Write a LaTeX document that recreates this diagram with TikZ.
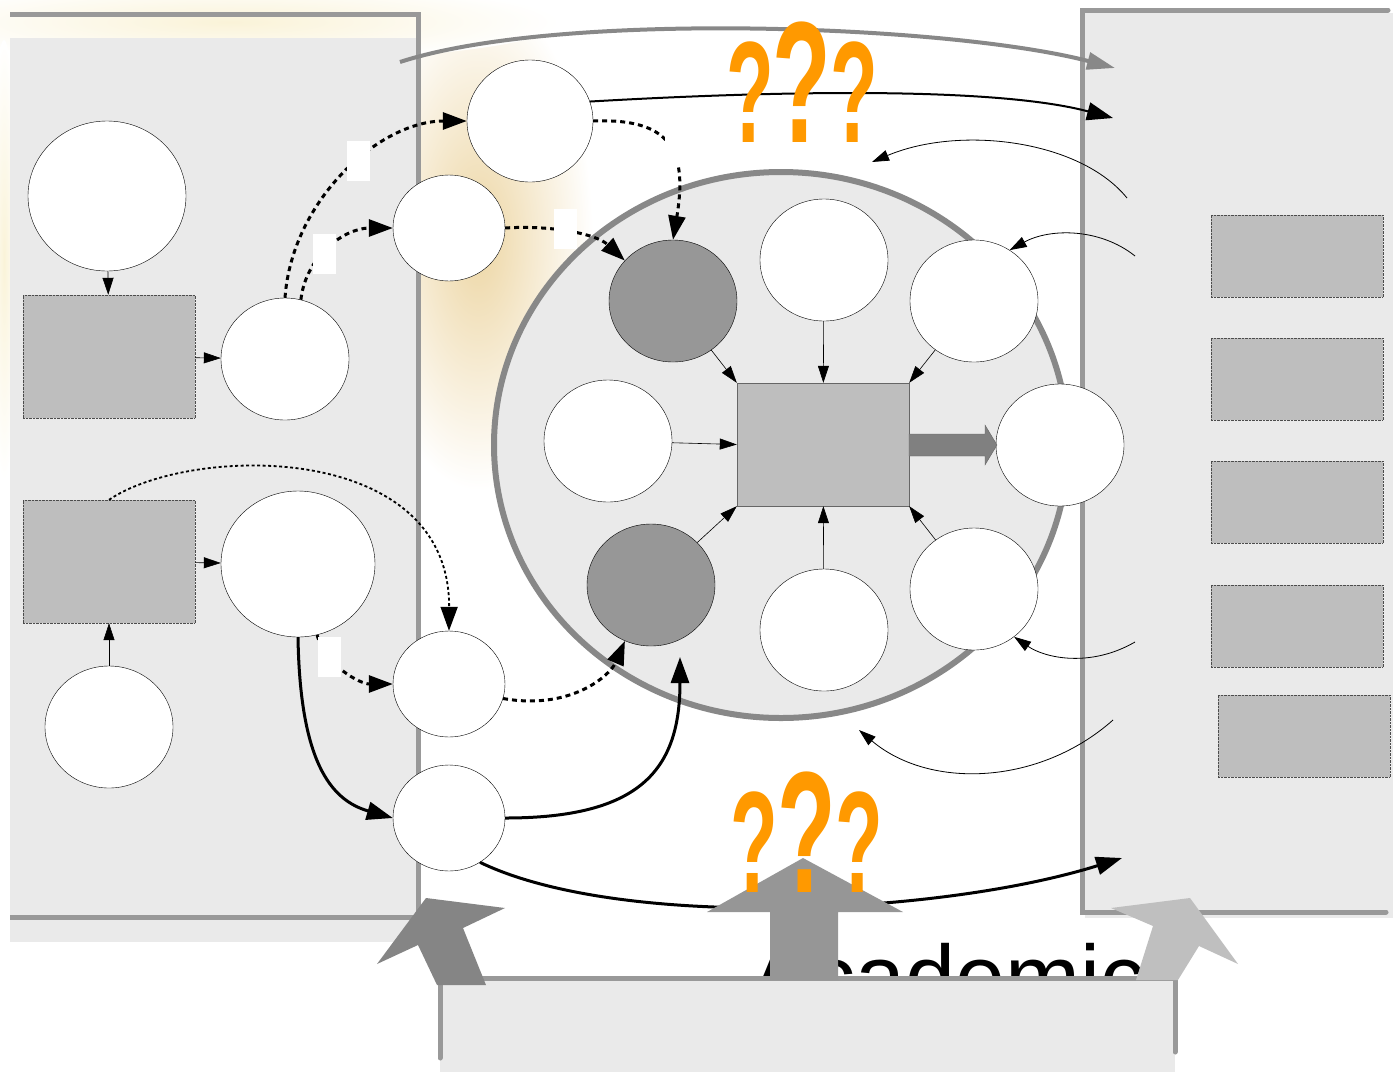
\documentclass[tikz,border=0pt]{standalone}
\usepackage{fontspec}
\setmainfont{Liberation Sans}
\usetikzlibrary{arrows.meta,shapes.geometric}

\definecolor{panel}{HTML}{EAEAEA}
\definecolor{frame}{HTML}{999999}
\definecolor{boxfill}{HTML}{BEBEBE}
\definecolor{darkfill}{HTML}{979797}
\definecolor{ringline}{HTML}{888888}
\definecolor{qmark}{HTML}{FF9900}
\definecolor{wheat}{HTML}{EDD6A4}
\definecolor{wheatlight}{HTML}{FAF3D8}

\tikzset{
  blob/.style={ellipse, draw, thin, fill=white, inner sep=0pt,
    minimum width=128pt, minimum height=122pt},
  darkblob/.style={blob, fill=darkfill},
  greybox/.style={rectangle, draw=black!70, densely dotted, fill=boxfill,
    inner sep=0pt, minimum width=172pt, minimum height=123pt},
  lbl/.style={rectangle, fill=white, inner sep=0pt,
    minimum width=23pt, minimum height=40pt},
  thinarrow/.style={-{Triangle[length=17pt,width=11pt]}, line width=0.6pt},
  dotarrow/.style={-{Triangle[length=24pt,width=17pt]}, line width=3pt,
    dash pattern=on 5pt off 4pt},
  finedots/.style={-{Triangle[length=24pt,width=17pt]}, line width=1.8pt,
    dash pattern=on 3pt off 2.5pt},
  fatarrow/.style={-{Triangle[length=26pt,width=18pt]}, line width=3pt},
  qm/.style={text=qmark, anchor=base, inner sep=0pt},
}

\begin{document}
\begin{tikzpicture}[x=1pt, y=-1pt]
  \useasboundingbox (0,0) rectangle (1393,1072);

  % background
  \shade[inner color=wheat, outer color=white] (478,240) ellipse [x radius=115, y radius=250];
  \shade[inner color=wheatlight, outer color=white] (230,22) ellipse [x radius=330, y radius=40];
  \shade[inner color=wheatlight, outer color=white] (4,260) ellipse [x radius=14, y radius=220];

  % panels
  \fill[panel] (10,38) rectangle (418,942);
  \draw[frame, line width=5pt] (10,14) -- (418,14) -- (418,917) -- (10,917);
  \fill[panel] (1085,13) rectangle (1393,918);
  \draw[frame, line width=5pt, line cap=round] (1388,10) -- (1082,10) -- (1082,912) -- (1386,912);

  % ring
  \node[ellipse, draw=ringline, line width=6pt, fill=panel, minimum width=574pt,
    minimum height=546pt] (K) at (781,445) {};

  \begin{scope}[every node/.style={blob}]
    \node (A) [minimum width=158pt, minimum height=150pt] at (107,196) {};
    \node (C) at (285,359) {};
    \node (E) [minimum width=154pt, minimum height=146pt] at (298,564) {};
    \node (F) at (109,727) {};
    \node (G) [minimum width=126pt] at (530,121) {};
    \node (H) [minimum width=112pt, minimum height=106pt] at (449,228) {};
    \node (I) [minimum width=112pt, minimum height=106pt] at (449,684) {};
    \node (J) [minimum width=112pt, minimum height=106pt] at (449,818) {};
    \node (L) [darkblob] at (673,301) {};
    \node (M) at (824,260) {};
    \node (N) at (974,301) {};
    \node (O) at (608,441) {};
    \node (Q) at (1060,445) {};
    \node (R) [darkblob] at (651,585) {};
    \node (S) at (824,630) {};
    \node (T) at (974,589) {};
  \end{scope}

  \begin{scope}[every node/.style={greybox}]
    \node (B) at (109,356.5) {};
    \node (D) at (109,561.5) {};
    \node (P) [solid, draw=black!60] at (823,444.5) {};
    \node (U) [minimum height=82pt] at (1297,256) {};
    \node (V) [minimum height=82pt] at (1297,379) {};
    \node (W) [minimum height=82pt] at (1297,502) {};
    \node (X) [minimum height=82pt] at (1297,626) {};
    \node (Y) [minimum height=82pt] at (1304,736) {};
  \end{scope}

  \coordinate (g1) at (400,62);
  \coordinate (g2) at (1115,68);
  \coordinate (k1) at (1113,118);
  \coordinate (k2) at (1122,858);
  \coordinate (r1) at (680,657);
  \coordinate (t1) at (1127,198);
  \coordinate (t2) at (872,162);
  \coordinate (t3) at (1135,256);
  \coordinate (t4) at (1135,642);
  \coordinate (t5) at (1113,720);
  \coordinate (t6) at (859,730);

  % straight arrows
  \begin{scope}[every edge/.style={draw, thinarrow}]
    \path (A) edge (B);
    \path (B) edge (C);
    \path (D) edge (E);
    \path (F) edge (D);
    \path (L) edge (P.north west);
    \path (M) edge (P);
    \path (N) edge (P.north east);
    \path (O) edge (P.west);
    \path (R) edge (P.south west);
    \path (S) edge (P);
    \path (T) edge (P.south east);
  \end{scope}

  \fill[black!50, draw=black!60, thin] (909,434) -- (985,434) -- (985,425) -- (997,445)
    -- (985,465) -- (985,456) -- (909,456) -- cycle;

  % dotted links
  \draw[dotarrow] (C.north) .. controls +(7,-98) and +(-87,0) .. (G.west);
  \draw[dotarrow] (C.75) .. controls +(5,-44) and +(-48,0) .. (H.west);
  \draw[dotarrow] (H.east) .. controls +(45,-3) and +(-29,-27) .. (L.140);
  \draw[dotarrow] (G.east) .. controls +(77,-3) and +(15,-90) .. (L.north);
  \draw[dotarrow] (E.-75) .. controls +(8,30) and +(-33,0) .. (I.west);
  \draw[dotarrow] (I.-15) .. controls +(67,12) and +(-15,35) .. (R.-115);
  \draw[finedots] (D.north) .. controls +(81,-55) and +(1,-191) .. (I.north);

  % solid links
  \draw[fatarrow] (E.south) .. controls +(2,123) and +(-63,-18) .. (J.west);
  \draw[fatarrow] (J.east) .. controls +(135,0) and +(0,113) .. (r1);
  \draw[fatarrow] (J.-55) .. controls (620,930) and (940,915) .. (k2);
  \draw[fatarrow, line width=2pt] (G.18) .. controls +(207,-12) and +(-113,-30) .. (k1);
  \draw[ringline, line width=4pt, -{Triangle[length=28pt,width=17pt]}]
    (g1) .. controls (560,10) and (950,25) .. (g2);

  % thin links from the right
  \draw[thinarrow, line width=0.8pt] (t1) .. controls (1080,140) and (960,125) .. (t2);
  \draw[thinarrow, line width=0.8pt] (t3) .. controls (1100,228) and (1050,228) .. (N.55);
  \draw[thinarrow, line width=0.8pt] (t4) .. controls (1090,668) and (1045,658) .. (T.-50);
  \draw[thinarrow, line width=0.8pt] (t5) .. controls (1040,785) and (930,790) .. (t6);

  % labels on the dotted links
  \begin{scope}[every node/.style={lbl}]
    \node (l1) at (358,161) {};
    \node (l2) at (324,254) {};
    \node (l3) at (565,229) {};
    \node (l4) at (676,146) {};
    \node (l5) at (329,657) {};
  \end{scope}

  % bottom
  \node[anchor=base west, inner sep=0pt, font=\fontsize{90}{95}\selectfont] (acad) at (750,1008) {Academic};
  \fill[panel] (440,978) rectangle (1175,1072);
  \draw[frame, line width=5pt, line cap=round] (440,1058) -- (440,978) -- (1175,978) -- (1175,1052);

  \fill[black!48] (437,985) -- (418,945) -- (377,964) -- (426,898) -- (505,908)
    -- (463,928) -- (486,985) -- cycle;
  \fill[black!41] (770,980) -- (770,912) -- (707,912) -- (803,858) -- (903,912)
    -- (838,912) -- (838,980) -- cycle;
  \fill[black!25] (1136,980) -- (1153,926) -- (1111,908) -- (1190,898) -- (1238,964)
    -- (1199,946) -- (1178,980) -- cycle;

  % question marks
  \begin{scope}[every node/.style={qm}]
    \node[font=\fontsize{78}{80}\bfseries\selectfont] (q1) at (750,142) {\scalebox{1}[1.85]{?}};
    \node[font=\fontsize{96}{98}\bfseries\selectfont] (q2) at (802,142) {\scalebox{1}[1.8]{?}};
    \node[font=\fontsize{78}{80}\bfseries\selectfont] (q3) at (854,142) {\scalebox{1}[1.85]{?}};
    \node[font=\fontsize{78}{80}\bfseries\selectfont] (q4) at (754,892) {\scalebox{1}[1.85]{?}};
    \node[font=\fontsize{96}{98}\bfseries\selectfont] (q5) at (807,892) {\scalebox{1}[1.8]{?}};
    \node[font=\fontsize{78}{80}\bfseries\selectfont] (q6) at (859,892) {\scalebox{1}[1.85]{?}};
  \end{scope}
\end{tikzpicture}
\end{document}
